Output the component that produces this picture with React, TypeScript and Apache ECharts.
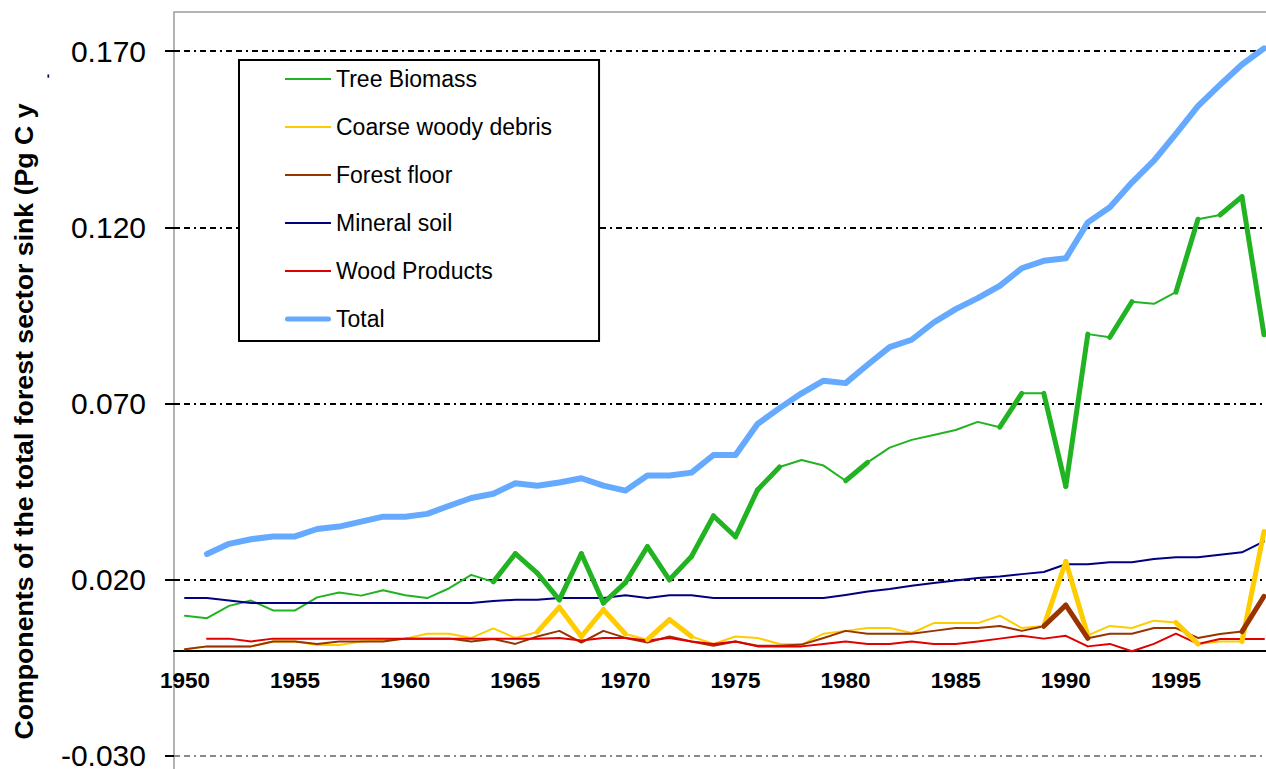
import React, { useEffect, useRef } from 'react';
import * as echarts from 'echarts';

const FONT = '"Liberation Sans", Arial, Helvetica, sans-serif';

const years = [
  '1950', '1951', '1952', '1953', '1954', '1955', '1956', '1957', '1958', '1959',
  '1960', '1961', '1962', '1963', '1964', '1965', '1966', '1967', '1968', '1969',
  '1970', '1971', '1972', '1973', '1974', '1975', '1976', '1977', '1978', '1979',
  '1980', '1981', '1982', '1983', '1984', '1985', '1986', '1987', '1988', '1989',
  '1990', '1991', '1992', '1993', '1994', '1995', '1996', '1997', '1998', '1999',
];

const yTicks = [-0.03, 0.02, 0.07, 0.12, 0.17];
const yMin = -0.03426;
const yMax = 0.1811;

const treeBiomass = [
  0.0098, 0.0091, 0.0126, 0.0141, 0.0113, 0.0113, 0.015, 0.0164, 0.0155, 0.017,
  0.0156, 0.0148, 0.0176, 0.0214, 0.0194, 0.0274, 0.0219, 0.0143, 0.0274, 0.0134,
  0.0192, 0.0294, 0.02, 0.0266, 0.0381, 0.0322, 0.0455, 0.052, 0.054, 0.0524,
  0.0481, 0.0533, 0.0575, 0.0597, 0.0611, 0.0625, 0.0648, 0.0633, 0.0729, 0.0729,
  0.0465, 0.0897, 0.0888, 0.0989, 0.0983, 0.1016, 0.1223, 0.1235, 0.1287, 0.0895,
];

const coarseWoodyDebris = [
  0.0003, 0.0011, 0.0011, 0.0011, 0.0025, 0.0025, 0.0015, 0.0015, 0.0025, 0.0028,
  0.0033, 0.0047, 0.0047, 0.0035, 0.0062, 0.0035, 0.0052, 0.0122, 0.0039, 0.0115,
  0.0046, 0.003, 0.0087, 0.0039, 0.0018, 0.0039, 0.0035, 0.0018, 0.0016, 0.0047,
  0.0055, 0.0063, 0.0063, 0.0049, 0.0077, 0.0077, 0.0077, 0.0098, 0.0063, 0.0069,
  0.0252, 0.0042, 0.0069, 0.0063, 0.0084, 0.0079, 0.0018, 0.0025, 0.0025, 0.0337,
];

const forestFloor = [
  0.0003, 0.0011, 0.0011, 0.0011, 0.0025, 0.0025, 0.0018, 0.0025, 0.0025, 0.0025,
  0.0033, 0.0033, 0.0033, 0.0025, 0.0032, 0.0018, 0.0039, 0.0055, 0.0022, 0.0055,
  0.0035, 0.0022, 0.0039, 0.0025, 0.0013, 0.0025, 0.0013, 0.0013, 0.0016, 0.0035,
  0.0055, 0.0047, 0.0047, 0.0047, 0.0055, 0.0063, 0.0063, 0.0069, 0.0055, 0.0068,
  0.0128, 0.0034, 0.0047, 0.0047, 0.0063, 0.0063, 0.0035, 0.0046, 0.0053, 0.0153,
];

const mineralSoil = [
  0.0148, 0.0148, 0.0141, 0.0134, 0.0134, 0.0134, 0.0134, 0.0134, 0.0134, 0.0134,
  0.0134, 0.0134, 0.0134, 0.0134, 0.014, 0.0143, 0.0143, 0.0148, 0.0148, 0.0148,
  0.0156, 0.0148, 0.0156, 0.0156, 0.0148, 0.0148, 0.0148, 0.0148, 0.0148, 0.0148,
  0.0157, 0.0167, 0.0174, 0.0183, 0.0191, 0.0198, 0.0205, 0.0209, 0.0216, 0.0222,
  0.0244, 0.0244, 0.025, 0.025, 0.0259, 0.0264, 0.0264, 0.0271, 0.0278, 0.0309,
];

const woodProducts = [
  null, 0.0033, 0.0033, 0.0025, 0.0033, 0.0033, 0.0033, 0.0033, 0.0033, 0.0033,
  0.0033, 0.0033, 0.0033, 0.0033, 0.0033, 0.0033, 0.0033, 0.0035, 0.0028, 0.0035,
  0.0035, 0.0028, 0.0035, 0.0025, 0.0018, 0.0025, 0.0011, 0.0011, 0.0011, 0.0018,
  0.0025, 0.0018, 0.0018, 0.0025, 0.0018, 0.0018, 0.0025, 0.0033, 0.0041, 0.0033,
  0.0041, 0.0011, 0.0018, -0.0003, 0.0018, 0.0047, 0.0018, 0.0032, 0.0032, 0.0032,
];

const total = [
  null, 0.0273, 0.0302, 0.0315, 0.0323, 0.0323, 0.0344, 0.0351, 0.0365, 0.0379,
  0.0379, 0.0387, 0.041, 0.0432, 0.0444, 0.0474, 0.0467, 0.0476, 0.0488, 0.0467,
  0.0453, 0.0496, 0.0496, 0.0504, 0.0554, 0.0554, 0.0642, 0.0687, 0.0729, 0.0765,
  0.0758, 0.081, 0.086, 0.0881, 0.093, 0.0968, 0.0999, 0.1034, 0.1084, 0.1105,
  0.1112, 0.1214, 0.1257, 0.1327, 0.1389, 0.1465, 0.1544, 0.1604, 0.1662, 0.1708,
];

type Def = { name: string; data: (number | null)[]; color: string; width: number; steep: boolean };

const defs: Def[] = [
  { name: 'Tree Biomass', data: treeBiomass, color: '#22b322', width: 2, steep: true },
  { name: 'Coarse woody debris', data: coarseWoodyDebris, color: '#ffcc00', width: 2, steep: true },
  { name: 'Forest floor', data: forestFloor, color: '#993300', width: 2, steep: true },
  { name: 'Mineral soil', data: mineralSoil, color: '#000080', width: 2, steep: true },
  { name: 'Wood Products', data: woodProducts, color: '#e00000', width: 2, steep: true },
  { name: 'Total', data: total, color: '#66aaff', width: 6, steep: false },
];

// legend line icons (bounding box 46x14 kept by the two degenerate corner points)
const THIN_ICON = 'path://M0,0L0,0M46,14L46,14M0,6H46V8H0Z';
const THICK_ICON =
  'path://M0,0L0,0M46,14L46,14M2.5,4.5H43.5A2.5,2.5,0,0,1,43.5,9.5H2.5A2.5,2.5,0,0,1,2.5,4.5Z';

const GRID_TOP = 12;
const GRID_HEIGHT = 759;

export default function App() {
  const ref = useRef<HTMLDivElement>(null);

  useEffect(() => {
    const chart = echarts.init(ref.current as HTMLDivElement, null, { renderer: 'svg' });

    const lineSeries = defs.map((d) => ({
      type: 'line',
      name: d.name,
      data: d.data,
      symbol: 'none',
      showSymbol: false,
      silent: true,
      z: 2,
      lineStyle: { color: d.color, width: d.width, cap: 'round', join: 'round' },
      itemStyle: { color: d.color },
    }));

    const steepSeries = defs
      .filter((d) => d.steep)
      .map((d) => ({
        type: 'custom',
        name: d.name + ' steep',
        data: d.data.map((v, i) => [i, v]),
        silent: true,
        z: 3,
        renderItem: (params: any, api: any) => {
          const i = params.dataIndex;
          const a = d.data[i];
          const b = d.data[i + 1];
          if (a == null || b == null) return null;
          const p = api.coord([i, a]);
          const q = api.coord([i + 1, b]);
          if (Math.abs(q[1] - p[1]) < 0.7 * Math.abs(q[0] - p[0])) return null;
          return {
            type: 'line',
            shape: { x1: p[0], y1: p[1], x2: q[0], y2: q[1] },
            style: { stroke: d.color, lineWidth: 5, lineCap: 'round' },
          };
        },
      }));

    // distance from the grid bottom up to the value 0 (where the category axis sits)
    const zeroOffset = -((0 - yMin) / (yMax - yMin)) * GRID_HEIGHT;

    chart.setOption({
      animation: false,
      backgroundColor: '#fff',
      grid: {
        left: 174,
        top: GRID_TOP,
        width: 1101,
        height: GRID_HEIGHT,
        show: true,
        borderColor: '#9a9a9a',
        borderWidth: 1.5,
        containLabel: false,
        outerBoundsMode: 'none',
      },
      legend: {
        data: defs.map((d) => ({ name: d.name, icon: d.steep ? THIN_ICON : THICK_ICON })),
        orient: 'vertical',
        left: 239,
        top: 60,
        padding: [7, 47, 10, 46],
        itemGap: 24,
        itemWidth: 46,
        itemHeight: 14,
        backgroundColor: '#fff',
        borderColor: '#000',
        borderWidth: 2,
        selectedMode: false,
        itemStyle: { borderWidth: 0 },
        textStyle: { fontFamily: FONT, fontSize: 23, color: '#000', lineHeight: 24 },
      },
      xAxis: {
        type: 'category',
        data: years,
        boundaryGap: true,
        position: 'bottom',
        offset: zeroOffset,
        axisLine: { onZero: false, lineStyle: { color: '#000', width: 2 } },
        axisTick: { interval: 4, length: 8, lineStyle: { color: '#000', width: 2 } },
        axisLabel: {
          interval: 4,
          fontFamily: FONT,
          fontWeight: 'bold',
          fontSize: 22.5,
          color: '#000',
          margin: 19,
        },
        splitLine: { show: false },
      },
      yAxis: {
        type: 'value',
        min: yMin,
        max: yMax,
        axisLine: {
          show: true,
          lineStyle: { color: '#000', width: 2, shadowColor: '#9a9a9a', shadowOffsetX: -2, shadowBlur: 0 },
        },
        axisTick: { show: true, customValues: yTicks, length: 9, lineStyle: { color: '#000', width: 2 } },
        axisLabel: {
          customValues: yTicks,
          formatter: (v: number) => v.toFixed(3),
          fontFamily: FONT,
          fontSize: 30,
          lineHeight: 24,
          color: '#000',
          margin: 28,
        },
        splitLine: {
          show: true,
          lineStyle: {
            color: ['#8a8a8a', '#000', '#000', '#000', '#000'],
            width: 2,
            type: [6, 4, 6, 4, 2, 4],
          },
        },
      },
      graphic: [
        {
          type: 'text',
          x: 24,
          y: 421.5,
          rotation: Math.PI / 2,
          style: {
            text: 'Components of the total forest sector sink (Pg C y',
            font: `bold 26.7px ${FONT}`,
            fill: '#000',
            align: 'center',
            verticalAlign: 'middle',
          },
        },
        {
          type: 'text',
          x: 47,
          y: 76,
          rotation: Math.PI / 2,
          style: {
            text: '-',
            font: `bold 13px ${FONT}`,
            fill: '#000',
            align: 'center',
            verticalAlign: 'middle',
          },
        },
      ],
      series: [...lineSeries, ...steepSeries],
    });

    return () => chart.dispose();
  }, []);

  return (
    <div
      ref={ref}
      style={{ position: 'fixed', left: 0, top: 0, width: 1266, height: 769, background: '#fff' }}
    />
  );
}
